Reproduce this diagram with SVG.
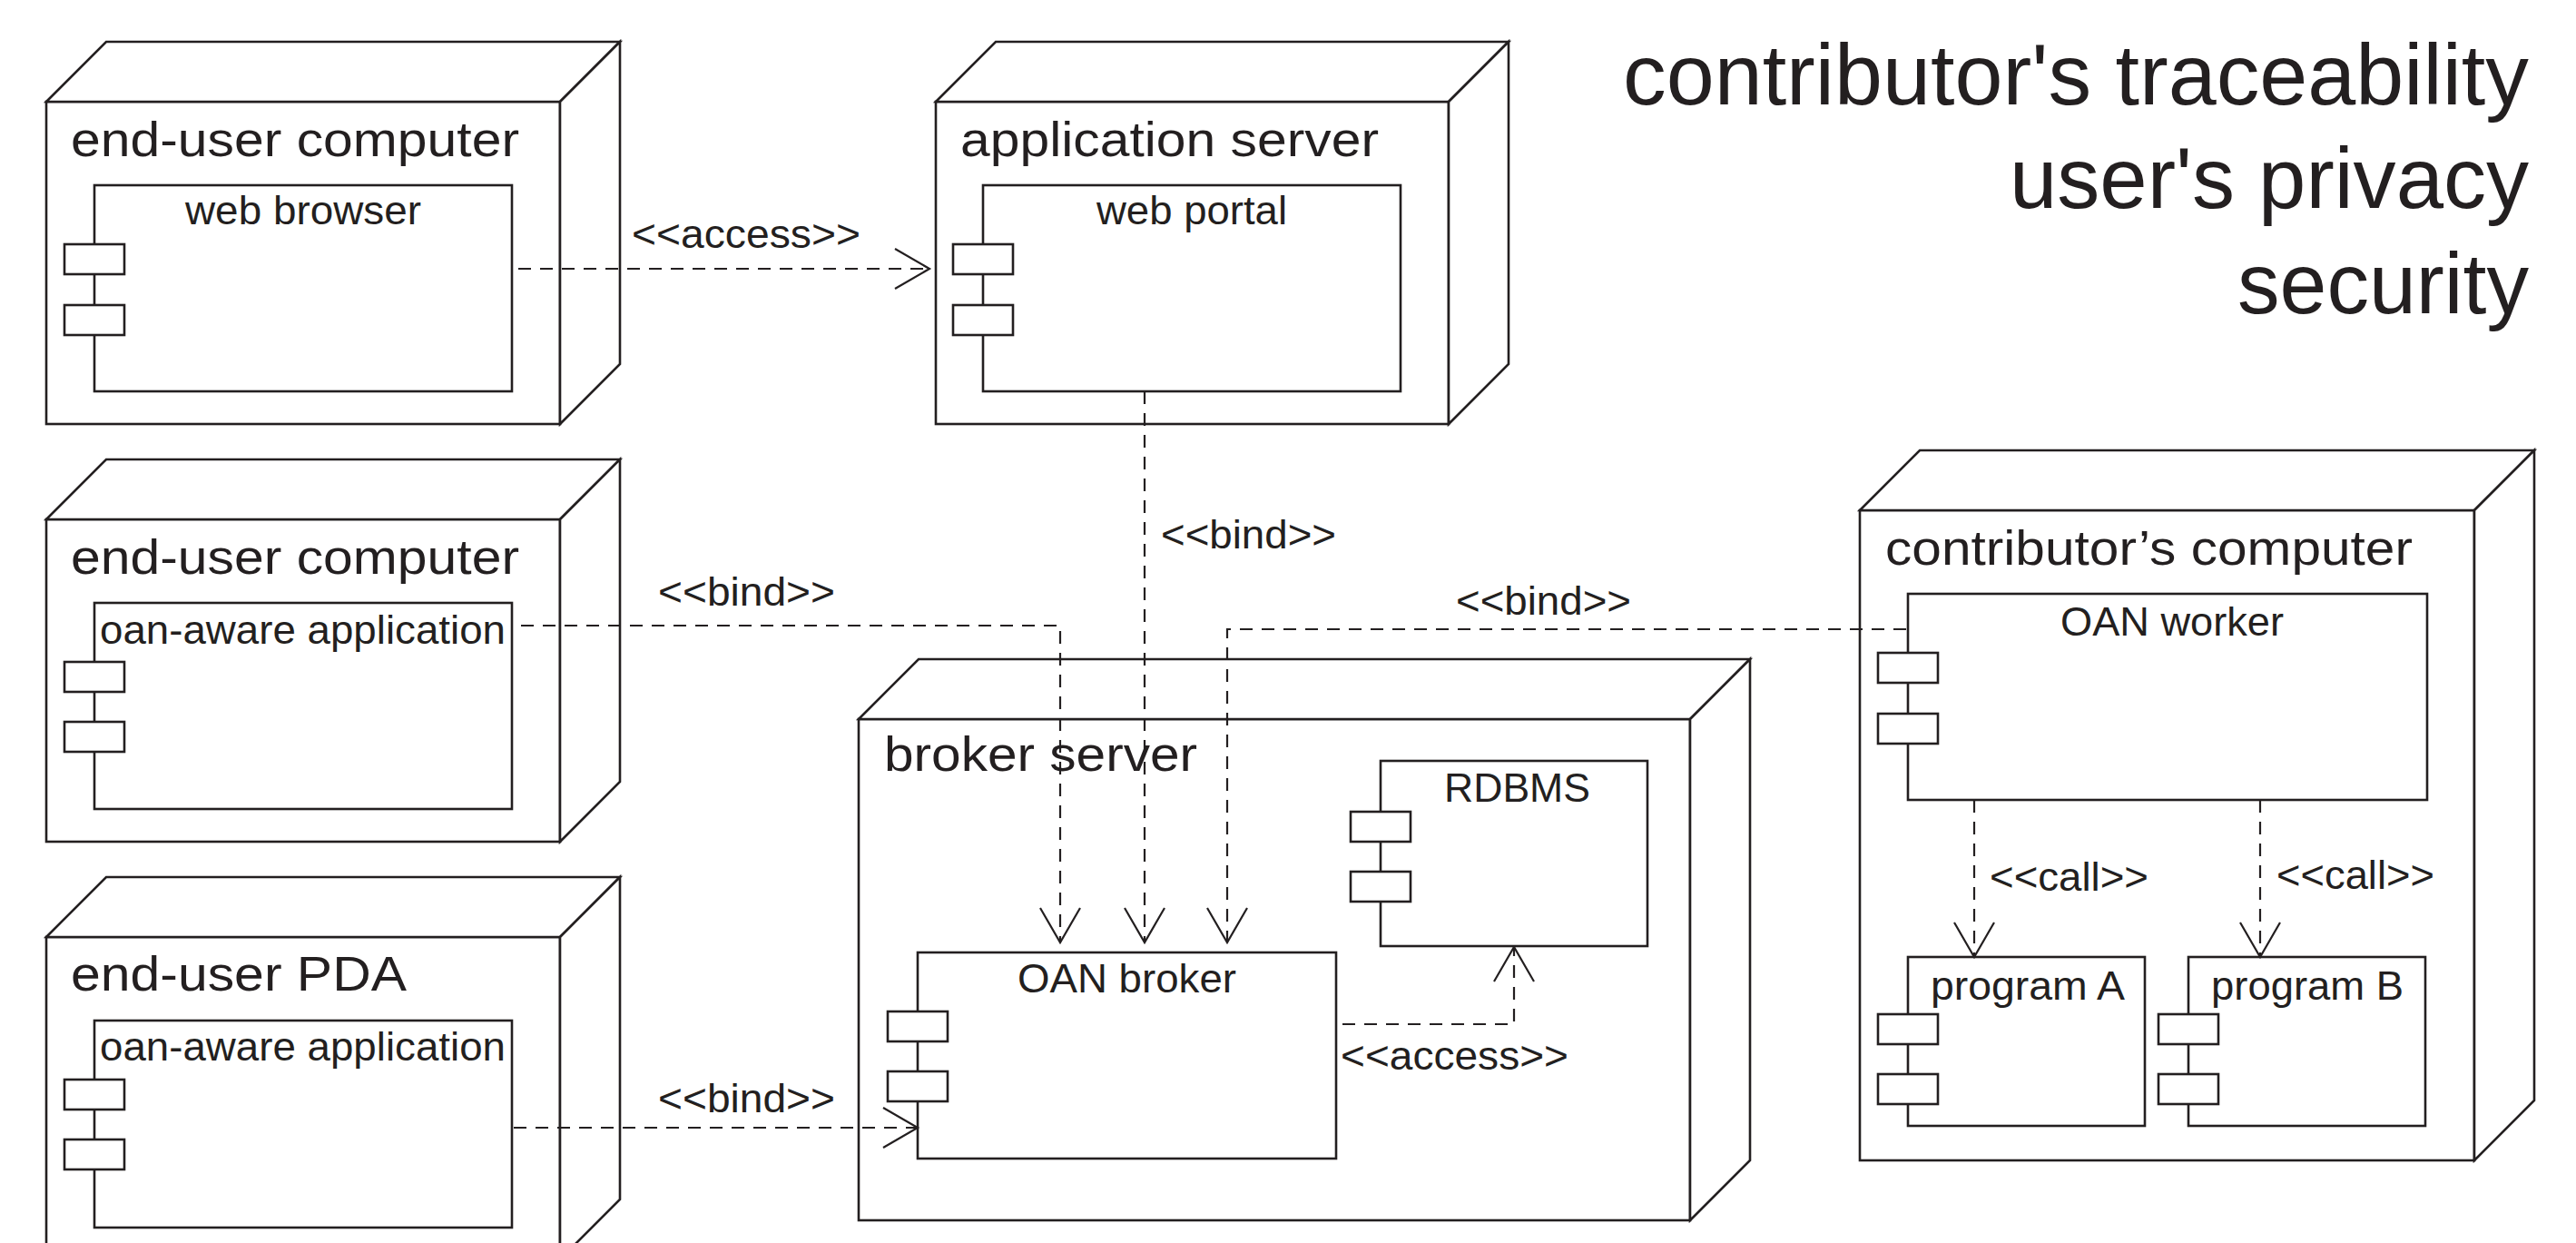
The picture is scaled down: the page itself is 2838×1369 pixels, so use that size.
<svg xmlns="http://www.w3.org/2000/svg" width="2838" height="1369" viewBox="0 0 2838 1369">
<style>
.cube{fill:#fff;stroke:#231f20;stroke-width:2.6;stroke-linejoin:miter}
.comp{fill:#fff;stroke:#231f20;stroke-width:2.6}
.port{fill:#fff;stroke:#231f20;stroke-width:2.6}
.conn{fill:none;stroke:#231f20;stroke-width:2.2;stroke-dasharray:14 10}
.head{fill:none;stroke:#231f20;stroke-width:2.2;stroke-dasharray:none}
text{font-family:"Liberation Sans",Arial,Helvetica,sans-serif;fill:#231f20}
.nl{font-size:54px}
.cl{font-size:44px}
.tl{font-size:94px}
</style>
<defs>
<marker id="open" markerUnits="userSpaceOnUse" viewBox="-42 -26 46 52" markerWidth="46" markerHeight="52" refX="0" refY="0" orient="auto">
<path class="head" d="M-38,-22 L0,0 L-38,22"/>
</marker>
</defs>
<rect width="2838" height="1369" fill="#fff"/>

<g id="title">
<text class="tl" x="1788" y="115" textLength="998" lengthAdjust="spacingAndGlyphs">contributor's traceability</text>
<text class="tl" x="2214" y="229" textLength="572" lengthAdjust="spacingAndGlyphs">user's privacy</text>
<text class="tl" x="2465" y="345" textLength="321" lengthAdjust="spacingAndGlyphs">security</text>
</g>

<g id="node-enduser-computer-1">
<rect class="cube" x="51" y="112" width="566" height="355"/>
<path class="cube" d="M51 112 L117 46 H683 L617 112 Z"/>
<path class="cube" d="M617 112 L683 46 V401 L617 467 Z"/>
<text class="nl" x="78" y="172" textLength="494" lengthAdjust="spacingAndGlyphs">end-user computer</text>
<g id="comp-web-browser">
<rect class="comp" x="104" y="204" width="460" height="227"/>
<rect class="port" x="71" y="269" width="66" height="33"/>
<rect class="port" x="71" y="336" width="66" height="33"/>
<text class="cl" x="204" y="247" textLength="260" lengthAdjust="spacingAndGlyphs">web browser</text>
</g>
</g>

<g id="node-application-server">
<rect class="cube" x="1031" y="112" width="565" height="355"/>
<path class="cube" d="M1031 112 L1097 46 H1662 L1596 112 Z"/>
<path class="cube" d="M1596 112 L1662 46 V401 L1596 467 Z"/>
<text class="nl" x="1058" y="172" textLength="461" lengthAdjust="spacingAndGlyphs">application server</text>
<g id="comp-web-portal">
<rect class="comp" x="1083" y="204" width="460" height="227"/>
<rect class="port" x="1050" y="269" width="66" height="33"/>
<rect class="port" x="1050" y="336" width="66" height="33"/>
<text class="cl" x="1208" y="247" textLength="210" lengthAdjust="spacingAndGlyphs">web portal</text>
</g>
</g>

<g id="node-enduser-computer-2">
<rect class="cube" x="51" y="572" width="566" height="355"/>
<path class="cube" d="M51 572 L117 506 H683 L617 572 Z"/>
<path class="cube" d="M617 572 L683 506 V861 L617 927 Z"/>
<text class="nl" x="78" y="632" textLength="494" lengthAdjust="spacingAndGlyphs">end-user computer</text>
<g id="comp-oan-aware-1">
<rect class="comp" x="104" y="664" width="460" height="227"/>
<rect class="port" x="71" y="729" width="66" height="33"/>
<rect class="port" x="71" y="795" width="66" height="33"/>
<text class="cl" x="110" y="709" textLength="447" lengthAdjust="spacingAndGlyphs">oan-aware application</text>
</g>
</g>

<g id="node-enduser-pda">
<rect class="cube" x="51" y="1032" width="566" height="355"/>
<path class="cube" d="M51 1032 L117 966 H683 L617 1032 Z"/>
<path class="cube" d="M617 1032 L683 966 V1321 L617 1387 Z"/>
<text class="nl" x="78" y="1091" textLength="370" lengthAdjust="spacingAndGlyphs">end-user PDA</text>
<g id="comp-oan-aware-2">
<rect class="comp" x="104" y="1124" width="460" height="228"/>
<rect class="port" x="71" y="1189" width="66" height="33"/>
<rect class="port" x="71" y="1255" width="66" height="33"/>
<text class="cl" x="110" y="1168" textLength="447" lengthAdjust="spacingAndGlyphs">oan-aware application</text>
</g>
</g>

<g id="node-broker-server">
<rect class="cube" x="946" y="792" width="916" height="552"/>
<path class="cube" d="M946 792 L1012 726 H1928 L1862 792 Z"/>
<path class="cube" d="M1862 792 L1928 726 V1278 L1862 1344 Z"/>
<text class="nl" x="974" y="849" textLength="345" lengthAdjust="spacingAndGlyphs">broker server</text>
<g id="comp-rdbms">
<rect class="comp" x="1521" y="838" width="294" height="204"/>
<rect class="port" x="1488" y="894" width="66" height="33"/>
<rect class="port" x="1488" y="960" width="66" height="33"/>
<text class="cl" x="1591" y="883" textLength="161" lengthAdjust="spacingAndGlyphs">RDBMS</text>
</g>
<g id="comp-oan-broker">
<rect class="comp" x="1011" y="1049" width="461" height="227"/>
<rect class="port" x="978" y="1114" width="66" height="33"/>
<rect class="port" x="978" y="1180" width="66" height="33"/>
<text class="cl" x="1121" y="1093" textLength="241" lengthAdjust="spacingAndGlyphs">OAN broker</text>
</g>
</g>

<g id="node-contributors-computer">
<rect class="cube" x="2049" y="562" width="677" height="716"/>
<path class="cube" d="M2049 562 L2115 496 H2792 L2726 562 Z"/>
<path class="cube" d="M2726 562 L2792 496 V1212 L2726 1278 Z"/>
<text class="nl" x="2077" y="622" textLength="581" lengthAdjust="spacingAndGlyphs">contributor’s computer</text>
<g id="comp-oan-worker">
<rect class="comp" x="2102" y="654" width="572" height="227"/>
<rect class="port" x="2069" y="719" width="66" height="33"/>
<rect class="port" x="2069" y="786" width="66" height="33"/>
<text class="cl" x="2270" y="700" textLength="246" lengthAdjust="spacingAndGlyphs">OAN worker</text>
</g>
<g id="comp-program-a">
<rect class="comp" x="2102" y="1054" width="261" height="186"/>
<rect class="port" x="2069" y="1117" width="66" height="33"/>
<rect class="port" x="2069" y="1183" width="66" height="33"/>
<text class="cl" x="2127" y="1101" textLength="214" lengthAdjust="spacingAndGlyphs">program A</text>
</g>
<g id="comp-program-b">
<rect class="comp" x="2411" y="1054" width="261" height="186"/>
<rect class="port" x="2378" y="1117" width="66" height="33"/>
<rect class="port" x="2378" y="1183" width="66" height="33"/>
<text class="cl" x="2436" y="1101" textLength="212" lengthAdjust="spacingAndGlyphs">program B</text>
</g>
</g>

<g id="connectors">
<path class="conn" d="M571 296 H1024" marker-end="url(#open)"/>
<text class="cl" x="696" y="273" textLength="252" lengthAdjust="spacingAndGlyphs">&lt;&lt;access&gt;&gt;</text>
<path class="conn" d="M1261 431 V1038" marker-end="url(#open)"/>
<text class="cl" x="1279" y="604" textLength="193" lengthAdjust="spacingAndGlyphs">&lt;&lt;bind&gt;&gt;</text>
<path class="conn" d="M574 689 H1168 V1038" marker-end="url(#open)"/>
<text class="cl" x="725" y="667" textLength="195" lengthAdjust="spacingAndGlyphs">&lt;&lt;bind&gt;&gt;</text>
<path class="conn" d="M2100 693 H1352 V1038" marker-end="url(#open)"/>
<text class="cl" x="1604" y="677" textLength="193" lengthAdjust="spacingAndGlyphs">&lt;&lt;bind&gt;&gt;</text>
<path class="conn" d="M566 1242 H1011" marker-end="url(#open)"/>
<text class="cl" x="725" y="1225" textLength="195" lengthAdjust="spacingAndGlyphs">&lt;&lt;bind&gt;&gt;</text>
<path class="conn" d="M1479 1128 H1668 V1043" marker-end="url(#open)"/>
<text class="cl" x="1477" y="1178" textLength="251" lengthAdjust="spacingAndGlyphs">&lt;&lt;access&gt;&gt;</text>
<path class="conn" d="M2175 881 V1054" marker-end="url(#open)"/>
<text class="cl" x="2192" y="981" textLength="175" lengthAdjust="spacingAndGlyphs">&lt;&lt;call&gt;&gt;</text>
<path class="conn" d="M2490 881 V1054" marker-end="url(#open)"/>
<text class="cl" x="2508" y="979" textLength="174" lengthAdjust="spacingAndGlyphs">&lt;&lt;call&gt;&gt;</text>
</g>
</svg>
